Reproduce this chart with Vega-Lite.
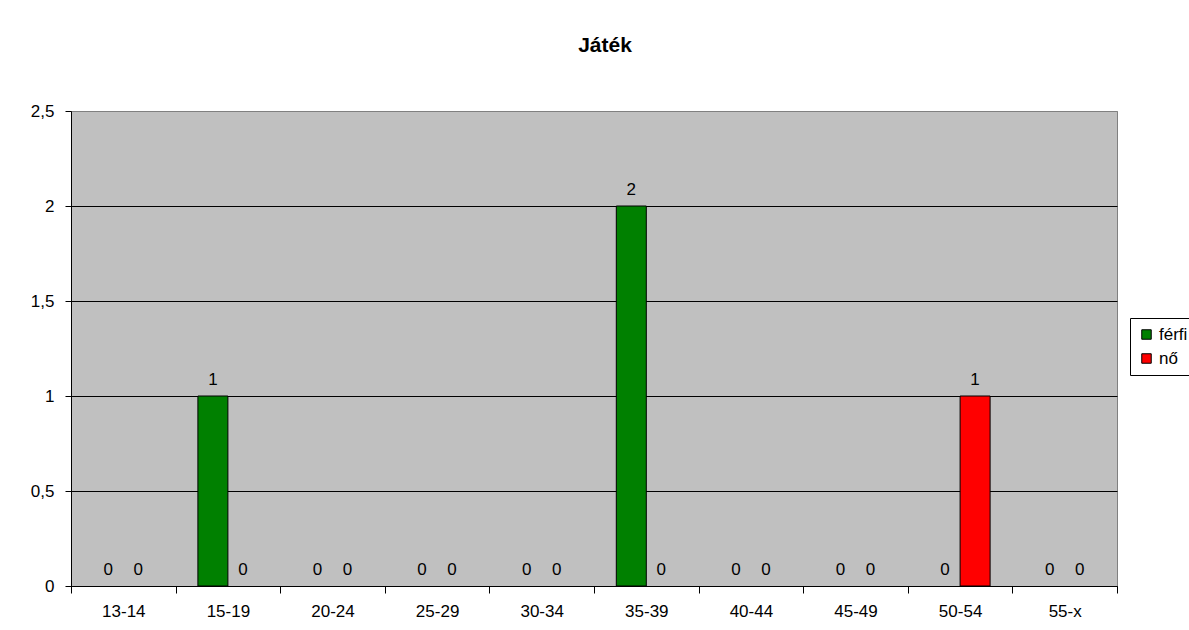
{
  "$schema": "https://vega.github.io/schema/vega-lite/v6.json",
  "autosize": {"type": "none"},
  "padding": {"left": 71, "top": 111, "right": 72, "bottom": 44},
  "width": 1046,
  "height": 475,
  "background": "white",
  "title": {
    "text": "Játék",
    "font": "Liberation Sans",
    "fontSize": 21,
    "fontWeight": "bold",
    "color": "black",
    "anchor": "middle",
    "baseline": "alphabetic",
    "dx": 11,
    "offset": 29
  },
  "data": {
    "values": [
      {"age": "13-14", "sex": "férfi", "count": 0},
      {"age": "13-14", "sex": "nő", "count": 0},
      {"age": "15-19", "sex": "férfi", "count": 1},
      {"age": "15-19", "sex": "nő", "count": 0},
      {"age": "20-24", "sex": "férfi", "count": 0},
      {"age": "20-24", "sex": "nő", "count": 0},
      {"age": "25-29", "sex": "férfi", "count": 0},
      {"age": "25-29", "sex": "nő", "count": 0},
      {"age": "30-34", "sex": "férfi", "count": 0},
      {"age": "30-34", "sex": "nő", "count": 0},
      {"age": "35-39", "sex": "férfi", "count": 2},
      {"age": "35-39", "sex": "nő", "count": 0},
      {"age": "40-44", "sex": "férfi", "count": 0},
      {"age": "40-44", "sex": "nő", "count": 0},
      {"age": "45-49", "sex": "férfi", "count": 0},
      {"age": "45-49", "sex": "nő", "count": 0},
      {"age": "50-54", "sex": "férfi", "count": 0},
      {"age": "50-54", "sex": "nő", "count": 1},
      {"age": "55-x", "sex": "férfi", "count": 0},
      {"age": "55-x", "sex": "nő", "count": 0}
    ]
  },
  "encoding": {
    "x": {
      "field": "age",
      "type": "nominal",
      "sort": null,
      "scale": {
        "domain": ["13-14", "15-19", "20-24", "25-29", "30-34", "35-39", "40-44", "45-49", "50-54", "55-x"],
        "paddingInner": 0,
        "paddingOuter": 0
      },
      "axis": {
        "title": null,
        "labelAngle": 0,
        "tickBand": "extent",
        "tickSize": 7,
        "tickColor": "black",
        "domainColor": "black",
        "labelFont": "Liberation Sans",
        "labelFontSize": 17,
        "labelColor": "black",
        "labelPadding": 10
      }
    },
    "xOffset": {
      "field": "sex",
      "type": "nominal",
      "sort": ["férfi", "nő"],
      "scale": {"domain": ["férfi", "nő"], "paddingInner": 0, "paddingOuter": 0.7433}
    },
    "y": {
      "field": "count",
      "type": "quantitative",
      "scale": {"domain": [0, 2.5], "nice": false},
      "axis": {
        "title": null,
        "values": [0, 0.5, 1, 1.5, 2, 2.5],
        "labelExpr": "replace(format(datum.value, '~g'), '.', ',')",
        "grid": true,
        "gridColor": {"condition": {"test": "datum.value >= 2.5", "value": "#808080"}, "value": "black"},
        "gridWidth": 1,
        "tickSize": 6,
        "tickColor": "black",
        "domainColor": "black",
        "labelFont": "Liberation Sans",
        "labelFontSize": 17,
        "labelColor": "black",
        "labelPadding": 11
      }
    }
  },
  "layer": [
    {
      "transform": [{"filter": "datum.count > 0"}],
      "mark": {"type": "bar", "stroke": "black", "strokeWidth": 1},
      "encoding": {
        "color": {
          "field": "sex",
          "type": "nominal",
          "scale": {"domain": ["férfi", "nő"], "range": ["#008000", "#FF0000"]},
          "legend": {
            "title": null,
            "orient": "none",
            "legendX": 1059,
            "legendY": 207,
            "direction": "vertical",
            "strokeColor": "black",
            "fillColor": "white",
            "padding": 8,
            "symbolType": "square",
            "symbolSize": 90,
            "symbolStrokeColor": "black",
            "symbolStrokeWidth": 1,
            "symbolOpacity": 1,
            "labelFont": "Liberation Sans",
            "labelFontSize": 17,
            "labelColor": "black",
            "rowPadding": 6,
            "labelOffset": 4
          }
        }
      }
    },
    {
      "mark": {
        "type": "text",
        "baseline": "alphabetic",
        "dy": -11,
        "font": "Liberation Sans",
        "fontSize": 17,
        "color": "black"
      },
      "encoding": {
        "text": {"field": "count", "type": "quantitative"}
      }
    }
  ],
  "config": {
    "view": {"fill": "#C0C0C0", "stroke": "#808080", "strokeWidth": 1}
  }
}
